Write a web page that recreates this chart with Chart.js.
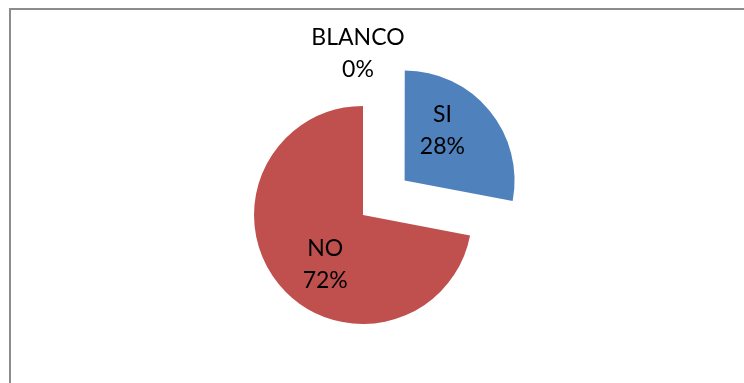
<!DOCTYPE html>
<html>
<head>
<meta charset="utf-8">
<script src="https://cdn.jsdelivr.net/npm/chart.js@4"></script>
<style>
  html, body { margin: 0; padding: 0; background: #fff; }
  #wrap { position: relative; width: 744px; height: 383px; }
  #frame {
    position: absolute; left: 9px; top: 8px; right: -4px; bottom: -4px;
    border: 2px solid #8c8c8c; box-sizing: border-box;
  }
  canvas { position: absolute; left: 0; top: 0; }
</style>
</head>
<body>
<div id="wrap">
  <div id="frame"></div>
  <canvas id="chart" width="744" height="383"></canvas>
</div>
<script>
// Datos del gráfico
const categorias = ["SI", "NO", "BLANCO"];
const porcentajes = [28, 72, 0];
const colores = ["#4F81BD", "#C0504D", "#4BACC6"];
const separacion = [54, 0, 0]; // desplazamiento de la porción separada (px)

// Etiquetas "categoría / porcentaje" dibujadas sobre cada porción
const etiquetasPlugin = {
  id: "etiquetas",
  afterDatasetsDraw(chart) {
    const ctx = chart.ctx;
    const meta = chart.getDatasetMeta(0);
    ctx.save();
    ctx.font = "23px Lato, 'Open Sans', sans-serif";
    ctx.fillStyle = "#000";
    ctx.textAlign = "center";
    ctx.textBaseline = "middle";
    meta.data.forEach((arc, i) => {
      const mid = (arc.startAngle + arc.endAngle) / 2;
      const r = arc.outerRadius;
      const cx = arc.x + Math.cos(mid) * separacion[i];
      const cy = arc.y + Math.sin(mid) * separacion[i];
      let x, y;
      if (porcentajes[i] === 0) {
        x = cx - 5;
        y = cy - r * 1.48;
      } else {
        x = cx + Math.cos(mid) * r * 0.45;
        y = cy + Math.sin(mid) * r * 0.72;
      }
      ctx.fillText(categorias[i], x, y - 16);
      ctx.fillText(porcentajes[i] + "%", x, y + 16);
    });
    ctx.restore();
  }
};

new Chart(document.getElementById("chart"), {
  type: "pie",
  data: {
    labels: categorias,
    datasets: [{
      data: porcentajes,
      backgroundColor: colores,
      borderWidth: 0,
      offset: separacion.map(s => s * 4),
      hoverOffset: 0
    }]
  },
  options: {
    responsive: false,
    animation: false,
    radius: 109,
    layout: { padding: { left: 0, right: 18, top: 47, bottom: 0 } },
    plugins: {
      legend: { display: false },
      tooltip: { enabled: false }
    }
  },
  plugins: [etiquetasPlugin]
});
</script>
</body>
</html>
